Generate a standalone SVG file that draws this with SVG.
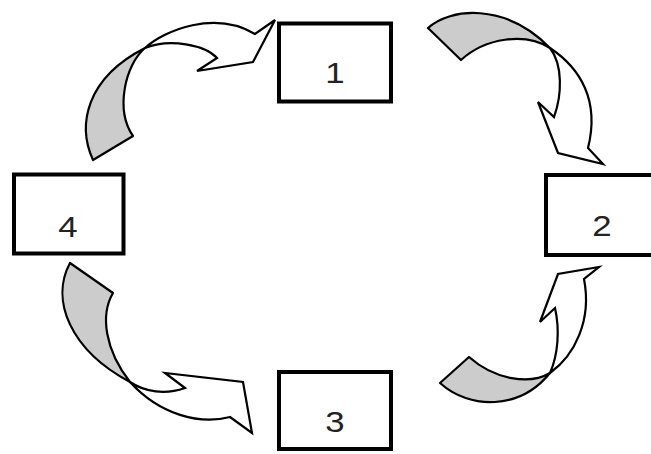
<svg xmlns="http://www.w3.org/2000/svg" width="651" height="454" viewBox="0 0 651 454">
<style>
.box{fill:#fff;stroke:#000;stroke-width:4}
.lbl{font-family:"Liberation Sans",Arial,sans-serif;font-size:29px;fill:#222;text-anchor:middle}
.back{fill:#cccccc;stroke:#000;stroke-width:2.2;stroke-linejoin:round}
.front{fill:#fff;stroke:#000;stroke-width:2.2;stroke-linejoin:miter}
</style>
<rect width="651" height="454" fill="#fff"/>
<g id="connectors">
  <g id="arrow-4-1">
    <path class="back" d="M93,160 C77,125 86,78 145,48 C125,65 115,110 133,136 Z"/>
    <path class="front" d="M145,48 C165,30 215,10 255,34 L275,20 L253,62 L197,71 L217,58 C205,45 170,38 145,48 Z"/>
  </g>
  <g id="arrow-1-2">
    <path class="back" d="M428,28 C450,8 505,2 550,48 C525,32 485,38 461,60 Z"/>
    <path class="front" d="M550,48 C580,68 600,100 588,148 L603,164 L558,153 L538,102 L554,117 C562,95 563,65 550,48 Z"/>
  </g>
  <g id="arrow-4-3">
    <path class="back" d="M70,263 C50,300 70,350 130,382 C105,350 100,315 113,293 Z"/>
    <path class="front" d="M130,382 C145,392 165,395 185,388 L165,373 L243,382 L252,433 L230,417 C200,425 160,415 130,382 Z"/>
  </g>
  <g id="arrow-3-2">
    <path class="back" d="M440,383 C470,410 520,410 550,373 C530,385 495,380 469,357 Z"/>
    <path class="front" d="M550,373 C575,355 592,320 584,279 L599,267 L558,274 L540,322 L555,308 C560,330 558,355 550,373 Z"/>
  </g>
</g>
<g id="node-1">
  <rect class="box" x="279" y="23.5" width="112" height="78"/>
  <text class="lbl" transform="translate(335,83) scale(1.2,1)">1</text>
</g>
<g id="node-2">
  <rect class="box" x="546" y="175" width="120" height="80"/>
  <text class="lbl" transform="translate(602,236) scale(1.2,1)">2</text>
</g>
<g id="node-3">
  <rect class="box" x="279" y="372" width="112" height="77"/>
  <text class="lbl" transform="translate(335,432) scale(1.2,1)">3</text>
</g>
<g id="node-4">
  <rect class="box" x="14" y="174.5" width="109.5" height="79"/>
  <text class="lbl" transform="translate(68,237) scale(1.2,1)">4</text>
</g>
</svg>
